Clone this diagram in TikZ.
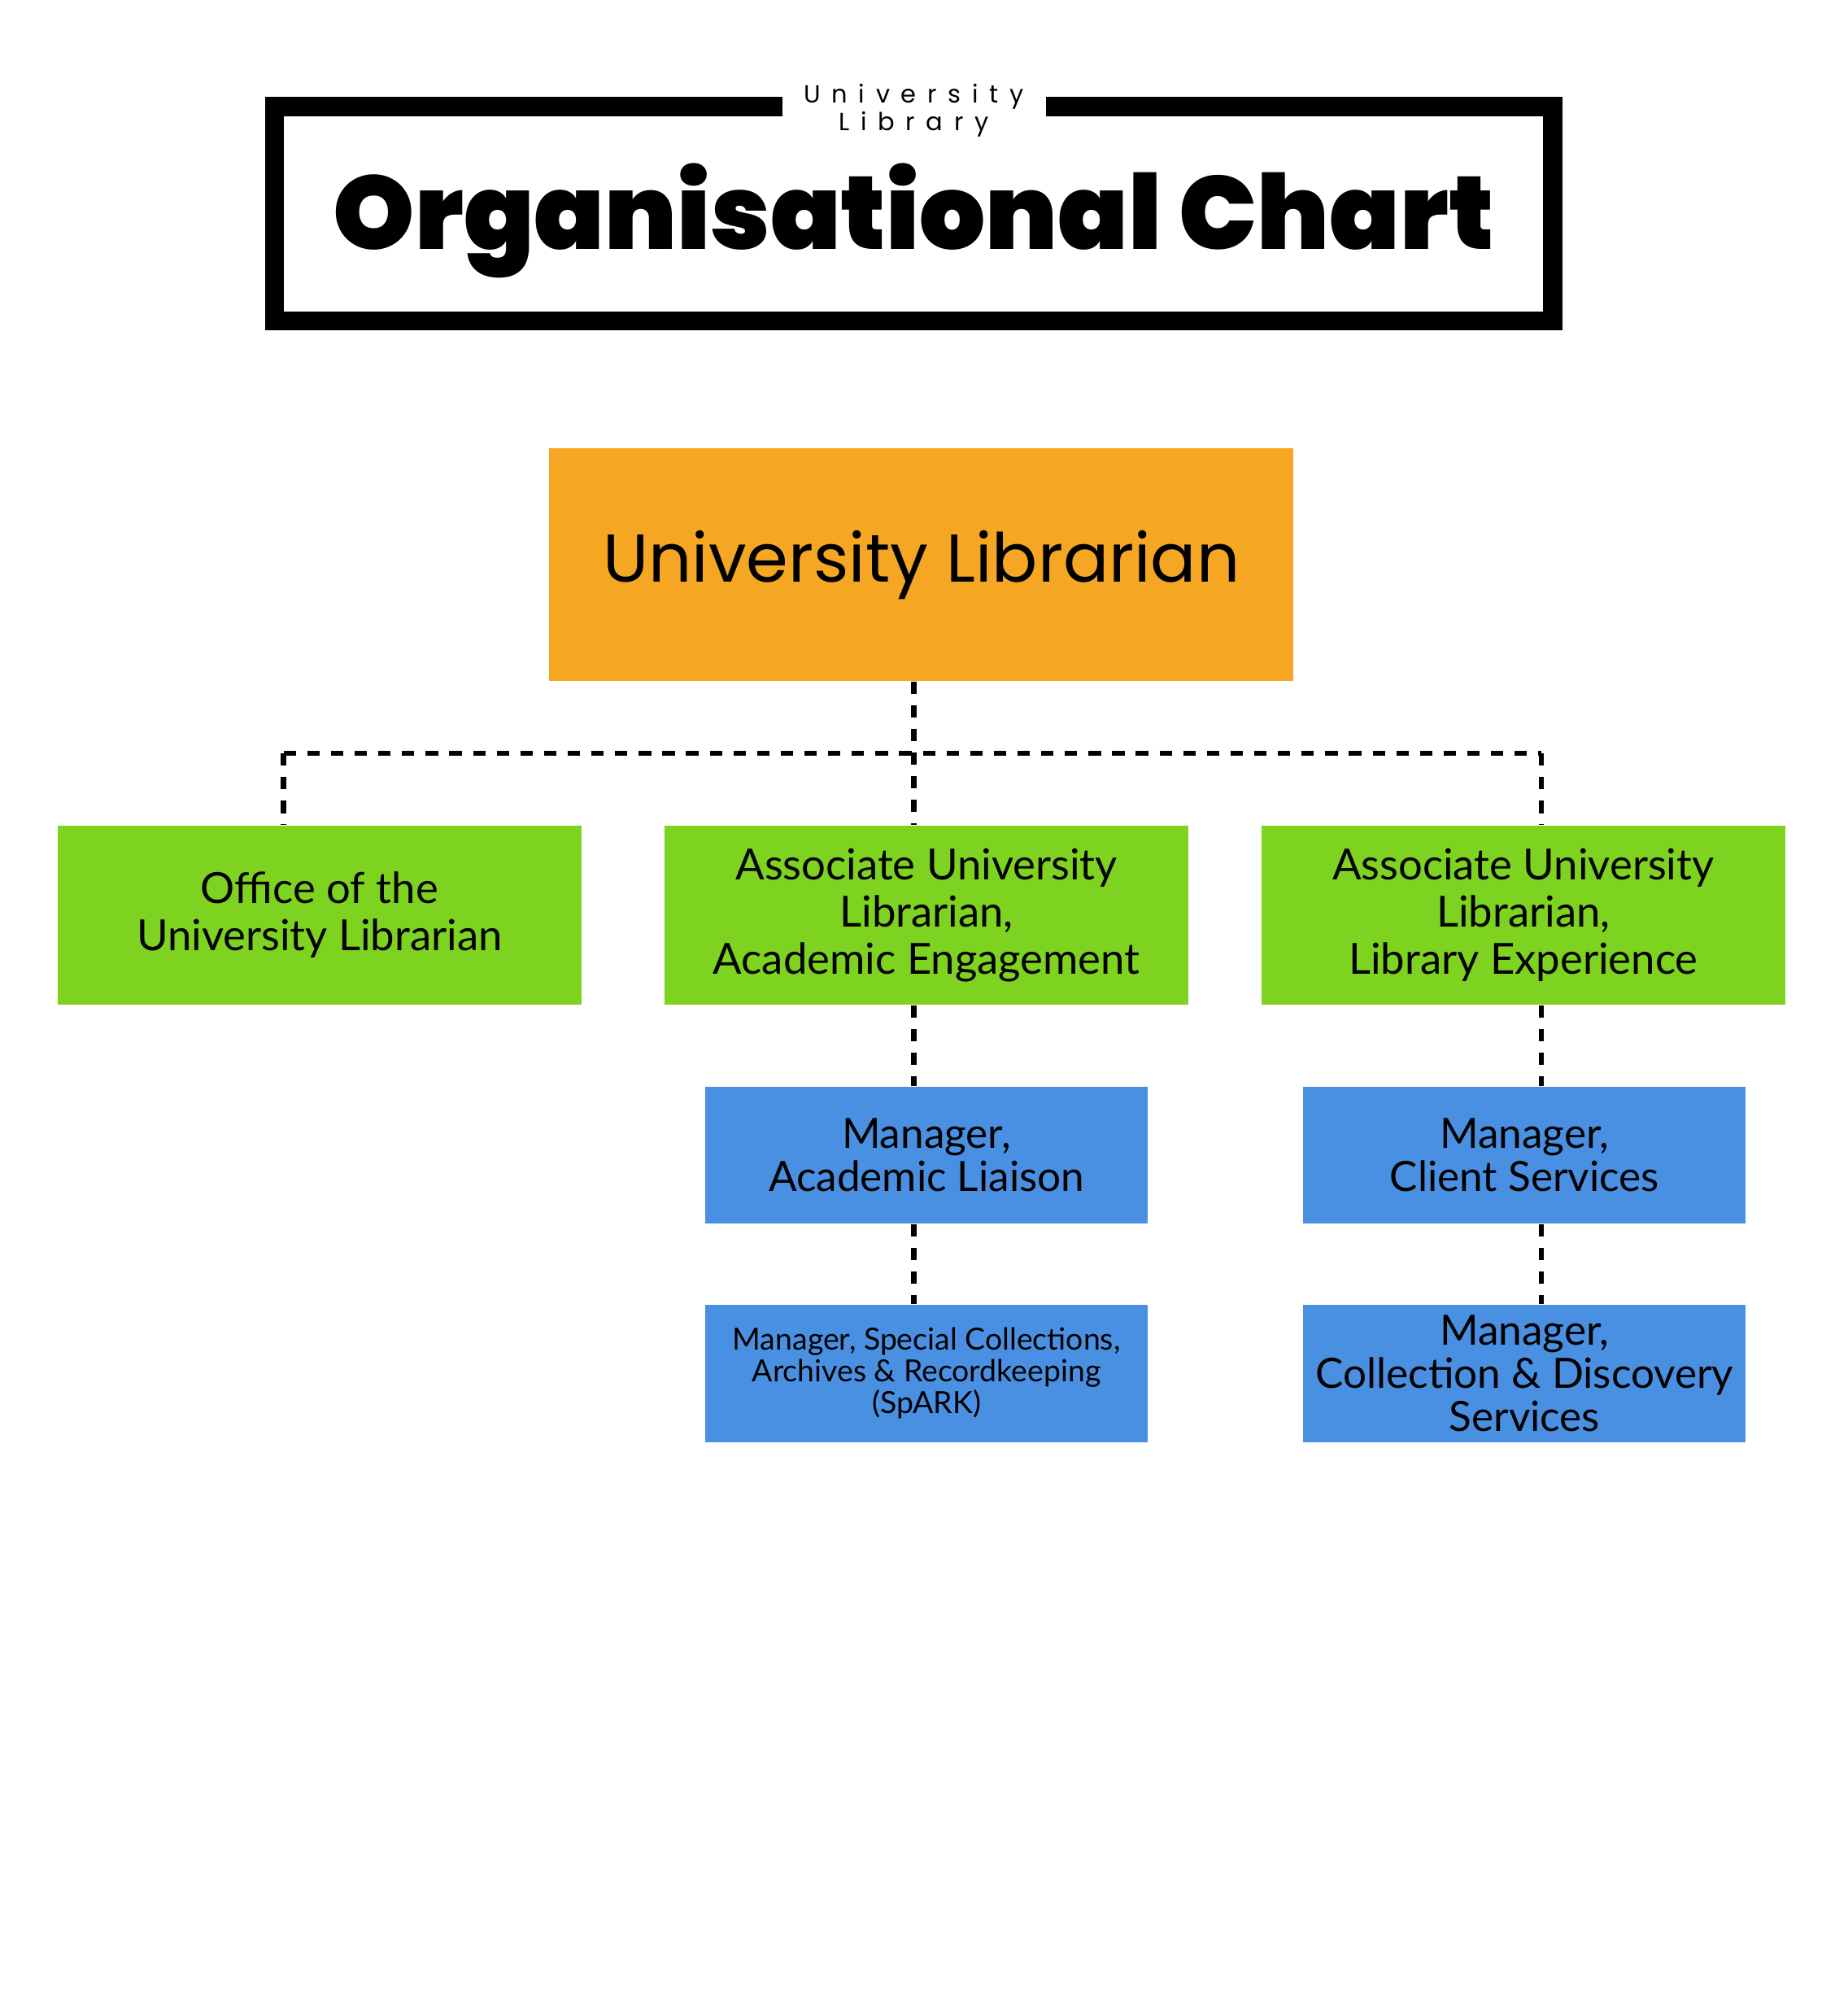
\documentclass[tikz,border=0pt]{standalone}
\usepackage{fontspec}
\setmainfont{Lato}
\newfontfamily\titlefont{Poppins}[UprightFont=* Black,BoldFont=* Black]
\newfontfamily\headfont{Poppins}
\usetikzlibrary{calc}

\definecolor{uorange}{HTML}{F5A623}
\definecolor{ugreen}{HTML}{7ED321}
\definecolor{ublue}{HTML}{4A90E2}

\tikzset{
	box/.style={inner sep=0pt, align=center, text=black},
	greenbox/.style={box, fill=ugreen, minimum width=8.16cm, minimum height=2.8cm, font=\fontsize{19}{21}\selectfont},
	bluebox/.style={box, fill=ublue, minimum width=6.9cm, minimum height=2.14cm, font=\fontsize{18.5}{19}\selectfont},
	link/.style={line width=2.3pt, dash pattern=on 5.5pt off 5pt}
}

\begin{document}
\begin{tikzpicture}[x=0.02cm,y=-0.02cm]
	\useasboundingbox (0,0) rectangle (1440,1570);
	% title frame
	\draw[line width=8.5pt] (610,83) -- (214,83) -- (214,250) -- (1210,250) -- (1210,83) -- (815,83);
	\node[box, font=\headfont\fontsize{11}{9}\selectfont\addfontfeature{LetterSpace=45}] (sub) at (712,86) {University\\Library};
	\node[box, font=\titlefont\fontsize{46}{50}\selectfont] (title) at (712,172) {Organisational Chart};

	% boxes
	\node[box, fill=uorange, minimum width=11.6cm, minimum height=3.62cm, font=\headfont\fontsize{30}{32}\selectfont] (ul) at (718,440) {University Librarian};
	\node[greenbox] (office) at (249,713) {Office of the\\University Librarian};
	\node[greenbox] (aulae) at (722,713) {Associate University\\Librarian,\\Academic Engagement};
	\node[greenbox] (aulle) at (1187,713) {Associate University\\Librarian,\\Library Experience};
	\node[bluebox] (liaison) at (722,900) {Manager,\\Academic Liaison};
	\node[bluebox] (client) at (1188,900) {Manager,\\Client Services};
	\node[bluebox, font=\fontsize{13.5}{14}\selectfont] (spark) at (722,1070) {Manager, Special Collections,\\Archives \& Recordkeeping\\(SpARK)};
	\node[bluebox] (discovery) at (1188,1070) {Manager,\\Collection \& Discovery\\Services};

	% connectors
	\coordinate (midx) at (712,587);
	\coordinate (leftx) at (221,587);
	\coordinate (rightx) at (1201,587);
	\draw[link] (ul.south -| midx) -- (aulae.north -| midx);
	\draw[link] (leftx) -- (rightx);
	\draw[link] (leftx) -- (office.north -| leftx);
	\draw[link] (rightx) -- (aulle.north -| rightx);
	\draw[link] (aulae.south -| midx) -- (liaison.north -| midx);
	\draw[link] (liaison.south -| midx) -- (spark.north -| midx);
	\draw[link] (aulle.south -| rightx) -- (client.north -| rightx);
	\draw[link] (client.south -| rightx) -- (discovery.north -| rightx);
\end{tikzpicture}
\end{document}
